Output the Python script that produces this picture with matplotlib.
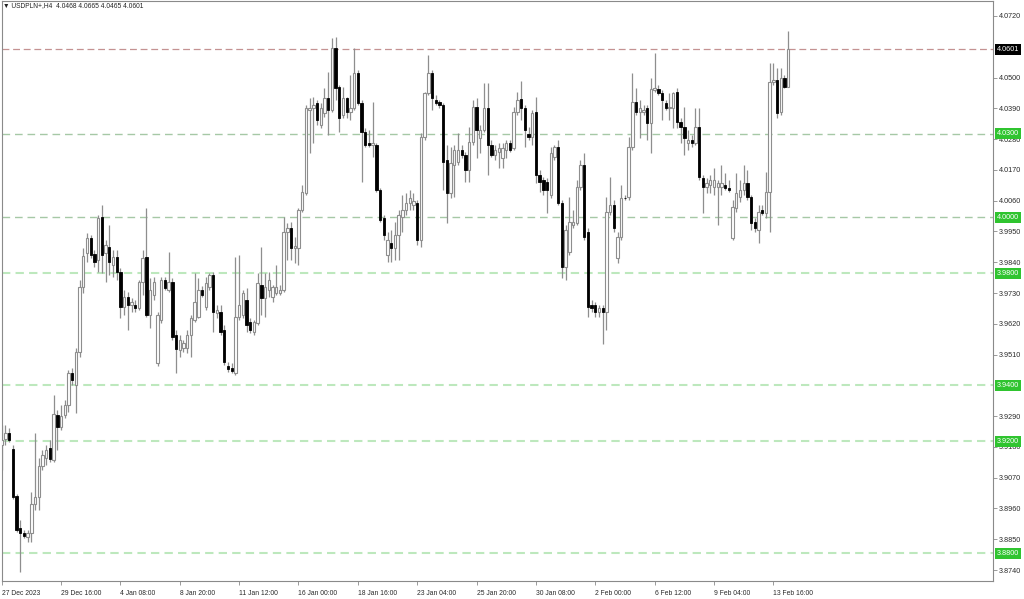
import matplotlib
matplotlib.use("Agg")
import matplotlib.pyplot as plt
import matplotlib.transforms as mtransforms

# ---------------- data (USDPLN+, H4) ----------------
opens = [3.9187,3.9208,3.9230,3.9173,3.9005,3.8890,3.8872,3.8858,3.8872,3.8976,
         3.9001,3.9112,3.9140,3.9176,3.9133,3.9294,3.9251,3.9294,3.9330,3.9444,
         3.9401,3.9519,3.9752,3.9873,3.9927,3.9869,3.9848,4.0002,3.9873,3.9894,
         3.9830,3.9859,3.9805,3.9680,3.9716,3.9687,3.9687,3.9676,3.9769,3.9859,
         3.9651,3.9723,3.9480,3.9634,3.9777,3.9741,3.9769,3.9580,3.9526,3.9534,
         3.9534,3.9580,3.9634,3.9644,3.9741,3.9680,3.9752,3.9794,3.9659,3.9662,
         3.9598,3.9469,3.9462,3.9444,3.9644,3.9651,3.9705,3.9626,3.9591,3.9623,
         3.9759,3.9712,3.9741,3.9716,3.9730,3.9730,3.9741,3.9948,3.9962,3.9891,
         3.9891,4.0027,4.0087,4.0384,4.0391,4.0409,4.0330,4.0373,4.0427,4.0384,
         4.0606,4.0466,4.0366,4.0427,4.0377,4.0391,4.0516,4.0409,4.0305,4.0266,
         4.0259,4.0259,4.0098,3.9998,3.9866,3.9909,3.9891,3.9937,4.0002,4.0027,
         4.0052,4.0045,4.0052,3.9920,4.0288,4.0445,4.0516,4.0420,4.0413,4.0402,
         4.0205,4.0087,4.0188,4.0198,4.0241,4.0223,4.0170,4.0270,4.0395,4.0284,
         4.0313,4.0391,4.0259,4.0223,4.0234,4.0213,4.0241,4.0266,4.0248,4.0377,
         4.0423,4.0391,4.0298,4.0288,4.0377,4.0152,4.0134,4.0127,4.0080,4.0216,
         4.0252,4.0052,3.9823,3.9877,3.9973,3.9980,4.0109,4.0188,3.9948,3.9687,
         3.9687,3.9662,3.9676,3.9662,4.0020,4.0045,3.9855,3.9930,4.0070,4.0073,
         4.0252,4.0413,4.0377,4.0377,4.0391,4.0338,4.0456,4.0459,4.0445,4.0409,
         4.0391,4.0391,4.0448,4.0341,4.0323,4.0266,4.0277,4.0266,4.0323,4.0141,
         4.0109,4.0116,4.0109,4.0109,4.0109,4.0116,4.0105,3.9927,4.0034,4.0073,
         4.0098,4.0123,4.0073,3.9984,3.9955,4.0027,4.0016,4.0091,4.0484,4.0491,
         4.0377,4.0498,4.0468]
highs = [3.9258,3.9258,3.9248,3.9187,3.9012,3.8919,3.8883,3.8883,3.9019,3.9230,
         3.9140,3.9169,3.9187,3.9205,3.9366,3.9312,3.9330,3.9348,3.9455,3.9462,
         3.9534,3.9777,3.9891,3.9944,3.9937,3.9884,4.0009,4.0045,3.9920,3.9973,
         3.9884,3.9884,3.9819,3.9741,3.9734,3.9712,3.9705,3.9777,3.9884,4.0034,
         3.9784,3.9787,3.9662,3.9787,3.9787,3.9877,3.9784,3.9598,3.9580,3.9562,
         3.9598,3.9651,3.9802,3.9784,3.9755,3.9787,3.9802,3.9805,3.9687,3.9687,
         3.9616,3.9483,3.9480,3.9859,3.9866,3.9741,3.9748,3.9641,3.9634,3.9802,
         3.9894,3.9802,3.9805,3.9759,3.9830,3.9759,4.0002,3.9980,3.9984,3.9930,
         4.0034,4.0116,4.0402,4.0427,4.0431,4.0420,4.0409,4.0463,4.0520,4.0641,
         4.0645,4.0473,4.0466,4.0431,4.0509,4.0606,4.0527,4.0420,4.0320,4.0313,
         4.0413,4.0266,4.0105,4.0009,3.9948,3.9955,3.9984,4.0027,4.0080,4.0087,
         4.0098,4.0087,4.0062,4.0302,4.0448,4.0581,4.0527,4.0438,4.0420,4.0409,
         4.0259,4.0252,4.0259,4.0302,4.0259,4.0234,4.0323,4.0420,4.0427,4.0330,
         4.0481,4.0481,4.0277,4.0259,4.0266,4.0266,4.0277,4.0277,4.0395,4.0448,
         4.0488,4.0402,4.0323,4.0384,4.0431,4.0170,4.0145,4.0141,4.0252,4.0259,
         4.0277,4.0062,3.9973,4.0073,4.0027,4.0134,4.0205,4.0230,3.9962,3.9705,
         3.9698,3.9687,3.9687,4.0073,4.0145,4.0062,3.9948,4.0116,4.0080,4.0288,
         4.0516,4.0463,4.0420,4.0402,4.0402,4.0499,4.0588,4.0473,4.0456,4.0420,
         4.0445,4.0448,4.0463,4.0356,4.0395,4.0313,4.0295,4.0391,4.0391,4.0152,
         4.0141,4.0152,4.0177,4.0134,4.0188,4.0159,4.0134,4.0062,4.0159,4.0134,
         4.0188,4.0170,4.0080,3.9998,4.0045,4.0045,4.0163,4.0552,4.0552,4.0534,
         4.0534,4.0509,4.0665]
lows = [3.9098,3.9187,3.9198,3.8994,3.8876,3.8733,3.8855,3.8840,3.8840,3.8955,
        3.8955,3.9098,3.9115,3.9126,3.9126,3.9169,3.9240,3.9283,3.9305,3.9401,
        3.9301,3.9501,3.9730,3.9841,3.9855,3.9823,3.9805,3.9802,3.9769,3.9794,
        3.9787,3.9777,3.9641,3.9651,3.9598,3.9662,3.9662,3.9669,3.9723,3.9644,
        3.9605,3.9705,3.9469,3.9623,3.9741,3.9734,3.9562,3.9444,3.9501,3.9519,
        3.9516,3.9501,3.9626,3.9641,3.9716,3.9669,3.9741,3.9591,3.9641,3.9580,
        3.9473,3.9448,3.9444,3.9437,3.9634,3.9641,3.9591,3.9587,3.9580,3.9616,
        3.9651,3.9644,3.9716,3.9698,3.9723,3.9723,3.9734,3.9848,3.9848,3.9837,
        3.9830,4.0020,4.0080,4.0230,4.0266,4.0330,4.0320,4.0359,4.0295,4.0377,
        4.0420,4.0305,4.0356,4.0356,4.0348,4.0384,4.0402,4.0127,4.0252,4.0252,
        4.0216,4.0091,3.9984,3.9920,3.9841,3.9841,3.9848,3.9848,3.9948,4.0009,
        4.0027,4.0027,3.9902,3.9894,4.0277,4.0438,4.0384,4.0402,4.0391,4.0098,
        3.9980,4.0070,4.0073,4.0188,4.0213,4.0127,4.0127,4.0259,4.0213,4.0230,
        4.0305,4.0152,4.0216,4.0205,4.0177,4.0177,4.0213,4.0234,4.0241,4.0366,
        4.0348,4.0252,4.0277,4.0259,4.0123,4.0091,4.0080,4.0016,4.0070,4.0205,
        4.0045,3.9784,3.9777,3.9866,3.9962,3.9973,4.0098,3.9920,3.9644,3.9662,
        3.9644,3.9644,3.9548,3.9598,4.0009,3.9948,3.9837,3.9920,4.0062,4.0062,
        4.0241,4.0366,4.0284,4.0366,4.0277,4.0230,4.0448,4.0438,4.0348,4.0384,
        4.0348,4.0320,4.0320,4.0266,4.0223,4.0241,4.0252,4.0259,4.0134,4.0016,
        4.0087,4.0087,4.0080,3.9973,4.0080,4.0098,4.0091,3.9920,4.0020,4.0055,
        4.0080,4.0062,3.9955,3.9948,3.9909,4.0009,3.9998,3.9948,4.0473,4.0356,
        4.0366,4.0463,4.0465]
closes = [3.9205,3.9230,3.9205,3.9001,3.8883,3.8872,3.8862,3.8872,3.8976,3.9001,
          3.9112,3.9151,3.9169,3.9137,3.9298,3.9251,3.9290,3.9330,3.9444,3.9419,
          3.9519,3.9752,3.9862,3.9927,3.9866,3.9841,3.9998,3.9866,3.9902,3.9841,
          3.9859,3.9805,3.9680,3.9716,3.9687,3.9698,3.9676,3.9769,3.9855,3.9651,
          3.9741,3.9769,3.9651,3.9777,3.9748,3.9769,3.9573,3.9530,3.9562,3.9551,
          3.9580,3.9641,3.9698,3.9741,3.9723,3.9766,3.9794,3.9662,3.9669,3.9591,
          3.9483,3.9458,3.9451,3.9644,3.9687,3.9730,3.9616,3.9598,3.9626,3.9766,
          3.9712,3.9752,3.9777,3.9752,3.9752,3.9741,3.9948,3.9962,3.9891,3.9898,
          4.0027,4.0091,4.0391,4.0391,4.0402,4.0349,4.0391,4.0427,4.0384,4.0606,
          4.0463,4.0356,4.0427,4.0377,4.0391,4.0516,4.0409,4.0305,4.0259,4.0259,
          4.0266,4.0098,3.9991,3.9937,3.9920,3.9891,3.9937,4.0009,4.0027,4.0052,
          4.0070,4.0059,3.9920,4.0288,4.0445,4.0516,4.0427,4.0409,4.0402,4.0198,
          4.0087,4.0195,4.0241,4.0241,4.0223,4.0170,4.0270,4.0395,4.0313,4.0313,
          4.0391,4.0259,4.0223,4.0241,4.0248,4.0248,4.0266,4.0241,4.0377,4.0420,
          4.0391,4.0313,4.0288,4.0373,4.0152,4.0127,4.0098,4.0098,4.0230,4.0252,
          4.0052,3.9823,3.9955,3.9984,3.9984,4.0109,4.0188,3.9930,3.9680,3.9676,
          3.9662,3.9676,3.9662,4.0020,4.0045,3.9962,3.9930,4.0070,4.0069,4.0252,
          4.0413,4.0377,4.0391,4.0384,4.0338,4.0459,4.0463,4.0445,4.0420,4.0391,
          4.0395,4.0445,4.0341,4.0323,4.0284,4.0277,4.0266,4.0323,4.0145,4.0109,
          4.0123,4.0134,4.0134,4.0123,4.0123,4.0105,4.0098,4.0038,4.0087,4.0098,
          4.0123,4.0073,3.9980,3.9962,4.0020,4.0016,4.0091,4.0484,4.0491,4.0373,
          4.0498,4.0466,4.0601]

time_labels = ["27 Dec 2023", "29 Dec 16:00", "4 Jan 08:00", "8 Jan 20:00",
               "11 Jan 12:00", "16 Jan 00:00", "18 Jan 16:00", "23 Jan 04:00",
               "25 Jan 20:00", "30 Jan 08:00", "2 Feb 00:00", "6 Feb 12:00",
               "9 Feb 04:00", "13 Feb 16:00"]
time_label_bars = [0, 16, 32, 48, 64, 80, 96, 112, 128, 144, 160, 176, 192, 208]

# visible price-scale labels (4.0610 and 3.9400 are covered by the level boxes)
price_ticks = [4.0720, 4.0500, 4.0390, 4.0280, 4.0170, 4.0060, 3.9950,
               3.9840, 3.9730, 3.9620, 3.9510, 3.9290, 3.9180, 3.9070,
               3.8960, 3.8850, 3.8740]

level_prices = [4.0300, 4.0000, 3.9800, 3.9400, 3.9200, 3.8800]
current_price = 4.0601
title = "\u25BC USDPLN+,H4  4.0468 4.0665 4.0465 4.0601"

# ---------------- figure ----------------
W, H = 1024, 599
fig = plt.figure(figsize=(W / 100, H / 100), dpi=100)
fig.patch.set_facecolor("white")
ax = fig.add_axes([1.5 / W, 18 / H, (993 - 1.5) / W, 580 / H])
ax.set_facecolor("white")

n = len(opens)
xs = list(range(n))
ax.set_xlim(-0.05, 267.2)
ax.set_ylim(3.87007, 4.07736)

# level lines
upper_levels = level_prices[:2]
for lv in level_prices:
    if lv in upper_levels:
        ax.axhline(lv, color="#a6c8a6", lw=1.0, ls=(0, (5.5, 3.5)), zorder=1)
    else:
        ax.axhline(lv, color="#bde8bd", lw=1.5, ls=(0, (4.0, 2.5)), zorder=1)
ax.axhline(current_price, color="#c49292", lw=0.9, ls=(0, (5.5, 3.0)), zorder=1)

# candles
wick_col = "#8e8e8e"
ax.vlines(xs, lows, highs, colors=wick_col, lw=0.9, zorder=2)
bw = 0.64
bull_x, bull_b, bull_h = [], [], []
bear_x, bear_b, bear_h = [], [], []
for i in range(n):
    o, c = opens[i], closes[i]
    if c >= o:
        bull_x.append(i); bull_b.append(o); bull_h.append(max(c - o, 0.00002))
    else:
        bear_x.append(i); bear_b.append(c); bear_h.append(o - c)
ax.bar(bull_x, bull_h, bottom=bull_b, width=bw, facecolor="white",
       edgecolor=wick_col, lw=0.8, zorder=3)
ax.bar(bear_x, bear_h, bottom=bear_b, width=bw, facecolor="black",
       edgecolor="black", lw=0.6, zorder=3)

# axes styling
for s in ax.spines.values():
    s.set_color("#8a8a8a")
    s.set_linewidth(0.8)

font = ["Liberation Sans", "DejaVu Sans"]
ax.yaxis.tick_right()
ax.set_yticks(price_ticks)
ax.set_yticklabels([f"{v:.4f}" for v in price_ticks], fontsize=5.2,
                   color="#2a2a2a", family=font)
ax.tick_params(axis="y", length=3, width=0.6, color="#8a8a8a", pad=1.5)

ax.set_xticks(time_label_bars)
ax.set_xticklabels(time_labels, fontsize=4.9, color="#2a2a2a", family=font,
                   ha="left")
ax.tick_params(axis="x", length=3, width=0.6, color="#8a8a8a", pad=3.5)

# right-axis boxes
trans = mtransforms.blended_transform_factory(ax.transAxes, ax.transData)
for lv in level_prices:
    ax.text(1.004, lv, f"{lv:.4f}", transform=trans, fontsize=5.2,
            color="white", family=font, va="center", ha="left", zorder=10,
            clip_on=False,
            bbox=dict(boxstyle="square,pad=0.25", fc="#2fc42f", ec="none"))
ax.text(1.004, current_price, f"{current_price:.4f}", transform=trans,
        fontsize=5.2, color="white", family=font, va="center", ha="left",
        zorder=10, clip_on=False,
        bbox=dict(boxstyle="square,pad=0.25", fc="black", ec="none"))

# title
fig.text(3 / W, 1 - 6 / H, title, fontsize=4.8, color="#222222",
         family=font, va="center", ha="left")

fig.savefig("out.png", dpi=100, facecolor="white")
